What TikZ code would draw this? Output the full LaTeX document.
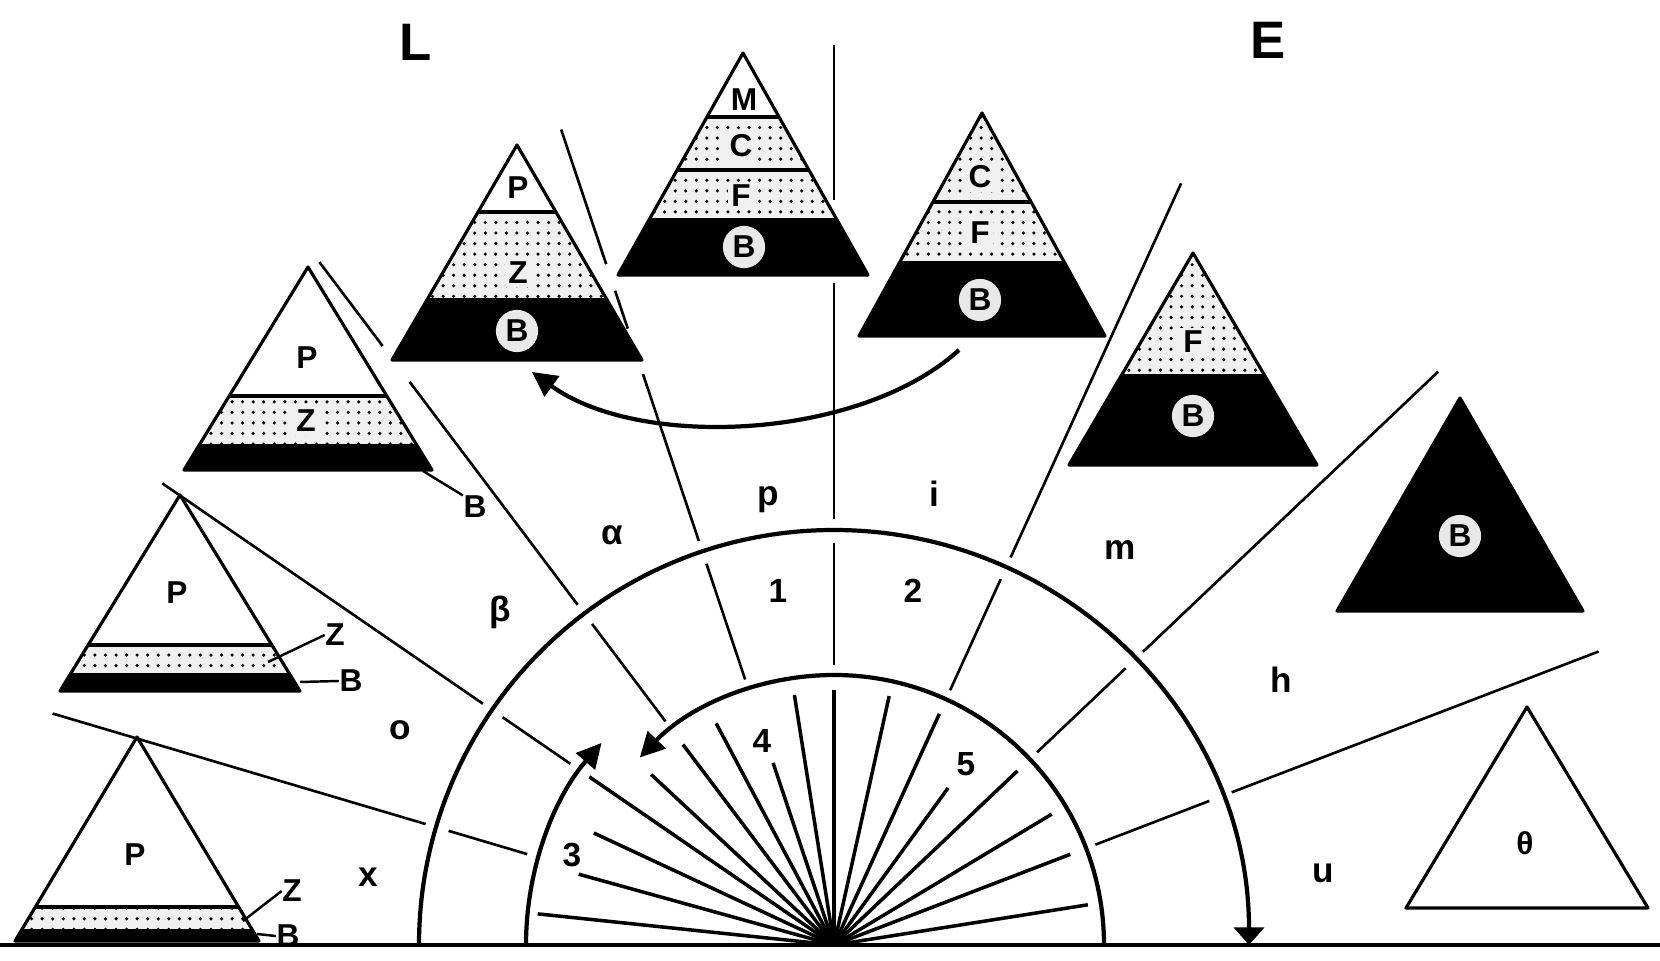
\documentclass[tikz,border=0pt]{standalone}
\usepackage{fontspec}
\setmainfont{Liberation Sans}
\usetikzlibrary{arrows.meta,patterns}
\tikzset{pyr/.style={draw,line width=0.9pt,line join=round},
  dotlay/.style={fill=gray!12,postaction={pattern=dots}},
  blacklay/.style={fill=black},
  layline/.style={line width=0.9pt},
  sline/.style={line width=0.75pt},
  ray/.style={line width=1pt},
  ring/.style={line width=1.2pt},
  lead/.style={line width=0.7pt},
  bigtip/.style={-{Triangle[length=7pt,width=7pt]}},
  flattip/.style={-{Triangle[length=5pt,width=8.5pt]}},
  lab/.style={inner sep=0pt,font=\bfseries\fontsize{9}{11}\selectfont},
  dotlab/.style={lab,fill=gray!12,inner sep=1pt},
  seclab/.style={inner sep=0pt,font=\bfseries\fontsize{10}{12}\selectfont},
  numlab/.style={inner sep=0pt,font=\bfseries\fontsize{9.5}{11}\selectfont},
  biglab/.style={inner sep=0pt,font=\bfseries\fontsize{15}{18}\selectfont},
  circb/.style={circle,fill=gray!18,inner sep=0pt,minimum size=12pt,
    font=\bfseries\fontsize{9}{11}\selectfont},
}
\begin{document}
\begin{tikzpicture}[x=0.01cm,y=-0.01cm]
  \fill[white] (0,0) rectangle (1660,961);
  \useasboundingbox (0,0) rectangle (1660,961);

  % pyramids, left to right
  \begin{scope}
    \clip (137,737) -- (259,941) -- (15,941) -- cycle;
    \fill[dotlay] (0,907) rectangle (1660,929);
    \fill[blacklay] (0,929) rectangle (1660,961);
    \draw[layline] (0,907) -- (1660,907);
  \end{scope}
  \draw[pyr] (137,737) -- (259,941) -- (15,941) -- cycle;

  \begin{scope}
    \clip (180,495) -- (300,691) -- (60,691) -- cycle;
    \fill[dotlay] (0,645) rectangle (1660,673);
    \fill[blacklay] (0,673) rectangle (1660,961);
    \draw[layline] (0,645) -- (1660,645);
  \end{scope}
  \draw[pyr] (180,495) -- (300,691) -- (60,691) -- cycle;

  \begin{scope}
    \clip (308,267) -- (432,470) -- (184,470) -- cycle;
    \fill[dotlay] (0,396) rectangle (1660,444);
    \fill[blacklay] (0,444) rectangle (1660,961);
    \draw[layline] (0,396) -- (1660,396);
  \end{scope}
  \draw[pyr] (308,267) -- (432,470) -- (184,470) -- cycle;

  \begin{scope}
    \clip (517,145) -- (642,360) -- (392,360) -- cycle;
    \fill[dotlay] (0,212) rectangle (1660,298);
    \fill[blacklay] (0,298) rectangle (1660,961);
    \draw[layline] (0,212) -- (1660,212);
  \end{scope}
  \draw[pyr] (517,145) -- (642,360) -- (392,360) -- cycle;

  \begin{scope}
    \clip (743,53) -- (868,275) -- (618,275) -- cycle;
    \fill[dotlay] (0,117) rectangle (1660,218);
    \fill[blacklay] (0,218) rectangle (1660,961);
    \draw[layline] (0,117) -- (1660,117) (0,170) -- (1660,170);
  \end{scope}
  \draw[pyr] (743,53) -- (868,275) -- (618,275) -- cycle;

  \begin{scope}
    \clip (982,113) -- (1105,336) -- (859,336) -- cycle;
    \fill[dotlay] (0,0) rectangle (1660,261);
    \fill[blacklay] (0,261) rectangle (1660,961);
    \draw[layline] (0,202) -- (1660,202);
  \end{scope}
  \draw[pyr] (982,113) -- (1105,336) -- (859,336) -- cycle;

  \begin{scope}
    \clip (1193,253) -- (1317,465) -- (1069,465) -- cycle;
    \fill[dotlay] (0,0) rectangle (1660,374);
    \fill[blacklay] (0,374) rectangle (1660,961);
  \end{scope}
  \draw[pyr] (1193,253) -- (1317,465) -- (1069,465) -- cycle;

  \draw[pyr,fill=black] (1460,398) -- (1583,611) -- (1337,611) -- cycle;
  \draw[pyr,fill=white] (1527,707) -- (1648,908) -- (1406,908) -- cycle;

  % ground line
  \draw[line width=1.3pt] (0,945) -- (1660,945);

  % fan, sector lines and arcs round the centre
  \begin{scope}[shift={(834,945)},yscale=-1]
    \foreach \a/\r in {174/298,164.5/265,155/265,145.5/297,137/250,127/251,
        118/251,108.5/192,99/253,90/255,77.5/255,65.5/254,54/194,43.5/253,
        31/254,21/253,9/257}
      \draw[ray] (0,0) -- (\a:\r);
    \fill (14,0) arc[start angle=0,end angle=180,radius=14] -- cycle;
    \foreach \a/\r in {163.5/320,145.5/320,127/280,108.5/280,90/280,65.5/280,
        43.5/280,21/280}
      \draw[sline] (\a:\r) -- (\a:402);
    \foreach \a/\r in {163.5/815,145.5/815,65.5/837,43.5/833,21/819}
      \draw[sline] (\a:426) -- (\a:\r);
    \draw[sline] (127:426) -- (127:705) (127:750) -- (127:855);
    \draw[sline] (108.5:426) -- (108.5:602) (108.5:650) -- (108.5:690)
      (108.5:718) -- (108.5:860);
    \draw[sline] (90:426) -- (90:662) (90:745) -- (90:900);
    \draw[ring,flattip] (180:415) arc[start angle=180,end angle=0,radius=415];
    \draw[ring,bigtip] (0:270) arc[start angle=0,end angle=136,radius=270];
    \draw[ring,bigtip] (180:308) arc[start angle=180,end angle=139,radius=308];
  \end{scope}

  % return arrow between the top pyramids
  \coordinate (retA) at (959,350);
  \coordinate (retB) at (532,372);
  \draw[ring,bigtip] (retA) .. controls (860,440) and (640,450) .. (retB);

  % layer labels
  \node[lab] (p1) at (135,855) {P};
  \node[lab] (z1) at (292,891) {Z};
  \node[lab] (b1) at (288,936) {B};
  \coordinate (z1a) at (243,921);
  \coordinate (b1a) at (257,934);
  \draw[lead] (z1a) -- (z1.west);
  \draw[lead] (b1a) -- (b1.west);

  \node[lab] (p2) at (177,593) {P};
  \node[lab] (z2) at (335,635) {Z};
  \node[lab] (b2) at (351,681) {B};
  \coordinate (z2a) at (268,662);
  \coordinate (b2a) at (300,682);
  \draw[lead] (z2a) -- (z2.west);
  \draw[lead] (b2a) -- (b2.west);

  \node[lab] (p3) at (307,358) {P};
  \node[dotlab] (z3) at (306,421) {Z};
  \node[lab] (b3) at (475,507) {B};
  \coordinate (b3a) at (423,471);
  \draw[lead] (b3a) -- (b3.north west);

  \node[lab] (p4) at (518,188) {P};
  \node[dotlab] (z4) at (518,273) {Z};
  \node[circb] (b4) at (517,331) {B};

  \node[lab] (m5) at (744,100) {M};
  \node[dotlab] (c5) at (741,146) {C};
  \node[dotlab] (f5) at (741,196) {F};
  \node[circb] (b5) at (744,247) {B};

  \node[dotlab] (c6) at (980,177) {C};
  \node[dotlab] (f6) at (980,233) {F};
  \node[circb] (b6) at (980,300) {B};

  \node[dotlab] (f7) at (1193,342) {F};
  \node[circb] (b7) at (1193,416) {B};

  \node[circb] (b8) at (1460,536) {B};
  \node[lab] (t9) at (1525,843) {θ};

  % sector and ring labels
  \node[biglab] (lL) at (416,42) {L};
  \node[biglab] (lE) at (1268,40) {E};
  \node[seclab] (sx) at (368,877) {x};
  \node[seclab] (so) at (400,730) {o};
  \node[seclab] (sbeta) at (500,612) {β};
  \node[seclab] (salpha) at (612,535) {α};
  \node[seclab] (sp) at (768,500) {p};
  \node[seclab] (si) at (934,494) {i};
  \node[seclab] (sm) at (1120,550) {m};
  \node[seclab] (sh) at (1281,680) {h};
  \node[seclab] (su) at (1323,873) {u};
  \node[numlab] (n1) at (778,591) {1};
  \node[numlab] (n2) at (913,591) {2};
  \node[numlab] (n3) at (572,855) {3};
  \node[numlab] (n4) at (762,741) {4};
  \node[numlab] (n5) at (966,764) {5};
\end{tikzpicture}
\end{document}
